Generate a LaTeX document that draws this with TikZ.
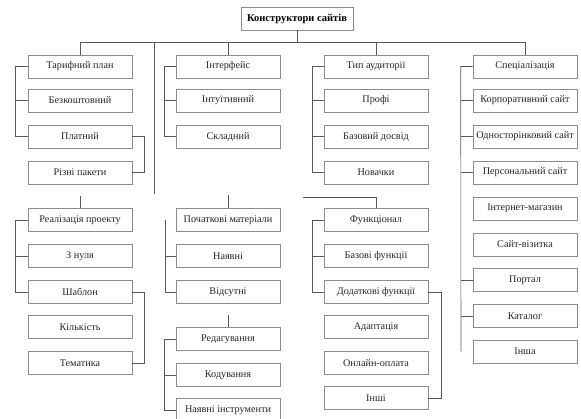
\documentclass[tikz,border=0pt]{standalone}
\usepackage{fontspec}
\setmainfont{Liberation Serif}
\begin{document}
\begin{tikzpicture}[x=1pt,y=-1pt,
  box/.style={draw=black!45, line width=0.6pt, minimum width=104pt, minimum height=23pt, inner sep=0pt, font=\fontsize{10.2}{12}\selectfont, text=black!85},
  conn/.style={draw=black!65, line width=0.6pt}]
\useasboundingbox (0,0) rectangle (581,418);
\node[box, minimum width=112pt, font=\fontsize{10.5}{12}\selectfont\bfseries, text=black] (root) at (297,18.5) {Конструктори сайтів};
% column 1
\node[box] (a1) at (80,66.5) {Тарифний план};
\node[box] (a2) at (80,100.5) {Безкоштовний};
\node[box] (a3) at (80,136.5) {Платний};
\node[box] (a4) at (80,172.5) {Різні пакети};
\node[box] (a5) at (80,220) {Реалізація проекту};
\node[box] (a6) at (80,256) {З нуля};
\node[box] (a7) at (80,292) {Шаблон};
\node[box] (a8) at (80,327) {Кількість};
\node[box] (a9) at (80,363) {Тематика};
% column 2
\node[box] (b1) at (228,66.5) {Інтерфейс};
\node[box] (b2) at (228,100.5) {Інтуїтивний};
\node[box] (b3) at (228,136.5) {Складний};
\node[box] (b4) at (228,220) {Початкові матеріали};
\node[box] (b5) at (228,256) {Наявні};
\node[box] (b6) at (228,292) {Відсутні};
\node[box] (b7) at (228,339) {Редагування};
\node[box] (b8) at (228,375) {Кодування};
\node[box] (b9) at (228,410) {Наявні інструменти};
% column 3
\node[box] (c1) at (376,66.5) {Тип аудиторії};
\node[box] (c2) at (376,100.5) {Профі};
\node[box] (c3) at (376,136.5) {Базовий досвід};
\node[box] (c4) at (376,172.5) {Новачки};
\node[box] (c5) at (376,220) {Функціонал};
\node[box] (c6) at (376,256) {Базові функції};
\node[box] (c7) at (376,292) {Додаткові функції};
\node[box] (c8) at (376,327) {Адаптація};
\node[box] (c9) at (376,363) {Онлайн-оплата};
\node[box] (c10) at (376,398) {Інші};
% column 4
\node[box] (d1) at (525,66.5) {Спеціалізація};
\node[box] (d2) at (525,100.5) {Корпоративний сайт};
\node[box] (d3) at (525,136.5) {Односторінковий сайт};
\node[box] (d4) at (525,172.5) {Персональний сайт};
\node[box] (d5) at (525,208.5) {Інтернет-магазин};
\node[box] (d6) at (525,244.5) {Сайт-візитка};
\node[box] (d7) at (525,280) {Портал};
\node[box] (d8) at (525,316) {Каталог};
\node[box] (d9) at (525,351.5) {Інша};
% top connectors
\coordinate (hub) at (297,42);
\coordinate (hl) at (80,42);
\coordinate (hr) at (525,42);
\coordinate (h2) at (228,42);
\coordinate (h3) at (376,42);
\coordinate (m1) at (154,42);
\coordinate (m2) at (154,194);
\draw[conn] (root) -- (hub);
\draw[conn] (hl) -- (hr);
\draw[conn] (hl) -- (a1.north);
\draw[conn] (h2) -- (b1.north);
\draw[conn] (h3) -- (c1.north);
\draw[conn] (hr) -- (d1.north);
\draw[conn] (m1) -- (m2);
% stubs
\coordinate (s1) at (80,196);
\coordinate (s2) at (228,195);
\coordinate (s3) at (303,197);
\coordinate (s4) at (228,315);
\draw[conn] (s1) -- (a5.north);
\draw[conn] (s2) -- (b4.north);
\draw[conn] (s3) -| (c5.north);
\draw[conn] (s4) -- (b7.north);
% brackets column 1
\draw[conn] (a1.west) -- ++(-12,0) |- (a3.west);
\draw[conn] (a2.west) -- ++(-12,0);
\draw[conn] (a3.east) -- ++(12,0) |- (a4.east);
\draw[conn] (a5.west) -- ++(-12,0) |- (a7.west);
\draw[conn] (a6.west) -- ++(-12,0);
\draw[conn] (a7.east) -- ++(12,0) |- (a9.east);
% brackets column 2
\draw[conn] (b1.west) -- ++(-11,0) |- (b3.west);
\draw[conn] (b2.west) -- ++(-11,0);
\coordinate (bt) at (165,220);
\draw[conn] (bt) |- (b6.west);
\draw[conn] (b5.west) -- ++(-11,0);
\draw[conn] (b7.west) -- ++(-11,0) |- (b9.west);
\draw[conn] (b8.west) -- ++(-11,0);
% brackets column 3
\draw[conn] (c1.west) -- ++(-11,0) |- (c4.west);
\draw[conn] (c2.west) -- ++(-11,0);
\draw[conn] (c3.west) -- ++(-11,0);
\draw[conn] (c5.west) -- ++(-11,0) |- (c7.west);
\draw[conn] (c6.west) -- ++(-11,0);
\draw[conn] (c7.east) -- ++(13,0) |- (c10.east);
% bracket column 4
\coordinate (dend) at (461,351.5);
\draw[conn] (d1.west) -- ++(-12,0) -- (dend);
\draw[conn] (d2.west) -- ++(-12,0);
\draw[conn] (d3.west) -- ++(-12,0);
\draw[conn] (d4.west) -- ++(-12,0);
\draw[conn] (d7.west) -- ++(-12,0);
\draw[conn] (d8.west) -- ++(-12,0);
\end{tikzpicture}
\end{document}
